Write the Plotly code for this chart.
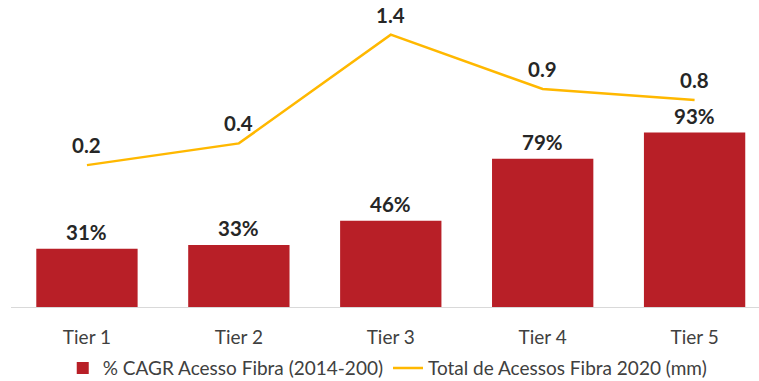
import plotly.graph_objects as go

# Chart data
tiers = ["Tier 1", "Tier 2", "Tier 3", "Tier 4", "Tier 5"]
cagr_pct = [31, 33, 46, 79, 93]
acessos_mm = [0.2, 0.4, 1.4, 0.9, 0.8]

bar_name = "% CAGR Acesso Fibra (2014-200)"
line_name = "Total de Acessos Fibra 2020 (mm)"

RED = "#B81F27"
YELLOW = "#FFB800"
FONT = "Lato, 'Open Sans', sans-serif"

fig = go.Figure()

fig.add_trace(go.Bar(
    x=tiers, y=cagr_pct, name=bar_name,
    marker=dict(color=RED, line=dict(width=0)),
    width=0.667, yaxis="y",
))

fig.add_trace(go.Scatter(
    x=tiers, y=acessos_mm, name=line_name, mode="lines",
    line=dict(color=YELLOW, width=2.5), yaxis="y2",
))

annotations = []
for t, v in zip(tiers, cagr_pct):
    annotations.append(dict(
        x=t, y=v, xref="x", yref="y", text=f"<b>{v}%</b>",
        showarrow=False, yanchor="middle", yshift=17,
        font=dict(family=FONT, size=20.5, color="#262626"),
    ))
for t, v in zip(tiers, acessos_mm):
    annotations.append(dict(
        x=t, y=v, xref="x", yref="y2", text=f"<b>{v:.1f}</b>",
        showarrow=False, yanchor="middle", yshift=20,
        font=dict(family=FONT, size=20.5, color="#262626"),
    ))

fig.update_layout(
    width=759, height=381,
    margin=dict(l=11, r=0, t=0, b=74, autoexpand=False),
    paper_bgcolor="white", plot_bgcolor="white",
    font=dict(family=FONT, size=19, color="#404040"),
    showlegend=True,
    legend=dict(
        orientation="h", x=0.503, xanchor="center",
        yref="container", y=0.034, yanchor="middle",
        font=dict(family=FONT, size=19, color="#404040"),
        itemwidth=30, tracegroupgap=0,
    ),
    xaxis=dict(
        range=[-0.5, 4.424], showgrid=False, zeroline=False,
        showline=True, linecolor="#D9D9D9", linewidth=1,
        ticks="", tickfont=dict(family=FONT, size=19, color="#404040"),
        ticklabelstandoff=13,
    ),
    yaxis=dict(range=[0, 163.7], visible=False, showgrid=False, zeroline=False),
    yaxis2=dict(range=[-1.105, 1.719], overlaying="y", side="right",
                visible=False, showgrid=False, zeroline=False),
    annotations=annotations,
)

fig.write_html("out.html")
